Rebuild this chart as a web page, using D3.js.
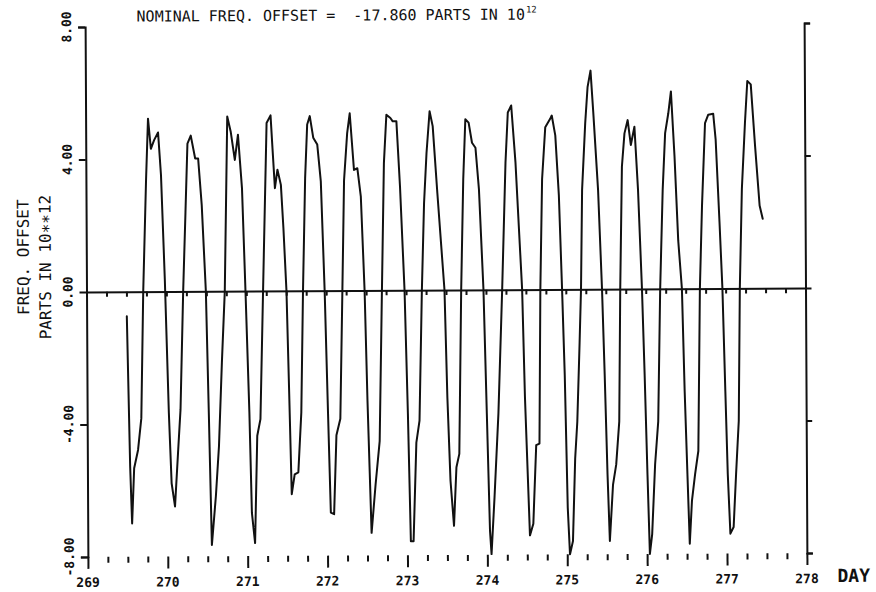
<!DOCTYPE html>
<html>
<head>
<meta charset="utf-8">
<script src="https://cdn.jsdelivr.net/npm/d3@7"></script>
<style>
  html, body { margin: 0; padding: 0; background: #fff; }
  svg { display: block; }
  text { font-family: "DejaVu Sans Mono", "Liberation Mono", monospace; fill: #111; }
</style>
</head>
<body>
<svg id="chart" width="876" height="592"></svg>
<script>
// Day of year (UTC) of each plotted sample
const days = [
  269.503, 269.535, 269.556, 269.585, 269.635, 269.678, 269.710, 269.753, 269.781, 269.815,
  269.856, 269.906, 269.940, 269.981, 270.023, 270.053, 270.094, 270.135, 270.169, 270.210,
  270.244, 270.273, 270.315, 270.369, 270.406, 270.448, 270.494, 270.523, 270.553, 270.606,
  270.648, 270.690, 270.731, 270.773, 270.815, 270.865, 270.906, 270.953, 270.990, 271.031,
  271.056, 271.094, 271.128, 271.169, 271.210, 271.265, 271.315, 271.335, 271.365, 271.398,
  271.440, 271.469, 271.503, 271.531, 271.556, 271.594, 271.640, 271.681, 271.710, 271.744,
  271.773, 271.806, 271.848, 271.898, 271.940, 271.981, 272.015, 272.044, 272.085, 272.119,
  272.169, 272.203, 272.231, 272.273, 272.306, 272.356, 272.398, 272.440, 272.481, 272.510,
  272.553, 272.606, 272.660, 272.698, 272.731, 272.765, 272.815, 272.844, 272.890, 272.931,
  272.981, 273.015, 273.044, 273.078, 273.119, 273.160, 273.198, 273.231, 273.265, 273.306,
  273.344, 273.398, 273.481, 273.510, 273.544, 273.585, 273.619, 273.656, 273.690, 273.723,
  273.753, 273.794, 273.835, 273.878, 273.919, 273.969, 274.003, 274.035, 274.053, 274.094,
  274.148, 274.203, 274.253, 274.285, 274.328, 274.378, 274.453, 274.481, 274.535, 274.578,
  274.619, 274.660, 274.681, 274.710, 274.753, 274.815, 274.835, 274.878, 274.919, 274.953,
  274.981, 275.010, 275.035, 275.073, 275.106, 275.135, 275.169, 275.190, 275.210, 275.253,
  275.285, 275.323, 275.356, 275.410, 275.453, 275.481, 275.510, 275.535, 275.578, 275.619,
  275.660, 275.681, 275.710, 275.744, 275.785, 275.823, 275.869, 275.910, 275.953, 275.981,
  276.010, 276.035, 276.065, 276.106, 276.148, 276.181, 276.219, 276.253, 276.294, 276.328,
  276.369, 276.410, 276.453, 276.481, 276.510, 276.535, 276.565, 276.606, 276.648, 276.678,
  276.710, 276.753, 276.794, 276.856, 276.885, 276.928, 276.960, 276.990, 277.015, 277.044,
  277.085, 277.119, 277.156, 277.178, 277.210, 277.253, 277.285, 277.328, 277.378, 277.431,
  277.469
];

// Frequency offset, parts in 10**12, relative to the nominal offset
const offsets = [
  -0.74, -5.28, -7.00, -5.33, -4.78, -3.82, 0.00, 3.40, 5.22, 4.31,
  4.57, 4.80, 3.51, 0.37, -3.67, -5.79, -6.49, -4.88, -3.57, 0.00,
  2.39, 4.46, 4.70, 4.01, 4.01, 2.60, 0.00, -3.67, -7.66, -6.19,
  -4.68, -2.15, 0.00, 5.27, 4.82, 3.96, 4.72, 3.10, 0.00, -3.67,
  -6.70, -7.61, -4.37, -3.87, 0.00, 5.07, 5.30, 4.41, 3.10, 3.66,
  3.20, 1.89, 0.00, -3.16, -6.14, -5.54, -5.48, -3.67, 0.00, 3.40,
  5.02, 5.27, 4.62, 4.41, 3.30, 0.00, -3.67, -6.70, -6.75, -4.37,
  -3.87, 0.00, 3.33, 4.75, 5.35, 3.64, 3.69, 2.83, 0.00, -3.33,
  -7.32, -5.86, -4.55, 0.00, 3.84, 5.30, 5.20, 5.10, 5.10, 3.13,
  0.00, -3.74, -7.58, -7.58, -4.60, -3.94, 0.00, 2.63, 4.14, 5.40,
  4.95, 2.93, 0.00, -3.23, -5.76, -7.12, -5.35, -4.95, 0.00, 3.33,
  5.15, 5.05, 4.44, 4.29, 3.03, 0.00, -3.74, -7.27, -7.98, -6.26,
  -3.74, 0.00, 3.84, 5.35, 5.56, 3.84, 0.00, -3.23, -7.42, -7.07,
  -4.70, -4.65, 0.00, 3.33, 4.90, 5.15, 5.25, 4.65, 2.83, 0.00,
  -2.60, -6.60, -8.00, -7.60, -5.10, -4.00, -1.60, 0.00, 3.00, 5.00,
  6.10, 6.60, 5.30, 3.00, 0.00, -2.60, -5.60, -7.60, -5.90, -5.30,
  -4.00, 0.00, 3.70, 4.70, 5.10, 4.35, 4.90, 3.00, 0.00, -2.60,
  -5.60, -8.00, -7.40, -5.30, -4.00, 0.00, 3.00, 4.70, 5.30, 5.96,
  4.00, 1.46, 0.00, -3.10, -5.60, -7.70, -6.40, -5.60, -4.90, 0.00,
  2.50, 5.00, 5.25, 5.28, 4.50, 2.00, 0.00, -3.10, -5.60, -7.40,
  -7.20, -5.60, -4.00, 0.00, 3.00, 5.00, 6.26, 6.16, 4.30, 2.50,
  2.10
];

const dayTicks = [269, 270, 271, 272, 273, 274, 275, 276, 277, 278];
const dayTickLabels = ["269", "270", "271", "272", "273", "274", "275", "276", "277", "278"];
const offsetTicks = [8, 4, 0, -4, -8];
const offsetTickLabels = ["8.00", "4.00", "0.00", "-4.00", "-8.00"];

const titleText = "NOMINAL FREQ. OFFSET =  -17.860 PARTS IN 10";
const titleExponent = "12";
const yTitleLines = ["FREQ. OFFSET", "PARTS IN 10\u2217\u221712"];
const xTitle = "DAY";

const ink = "#111";
const svg = d3.select("#chart");
svg.append("rect").attr("width", 876).attr("height", 592).attr("fill", "#fff");

// the plotter sheet sits with a slight counter-clockwise tilt
const sheet = svg.append("g").attr("transform", "rotate(-0.3 446 290)");

const x = d3.scaleLinear().domain([269, 278]).range([86.5, 805.5]);
const y = d3.scaleLinear().domain([-8, 8]).range([555, 25]);

const quarterDays = d3.range(269, 278.001, 0.25);

function inkAxis(sel, width) {
  sel.selectAll("path, line").attr("stroke", ink).attr("stroke-width", width);
  sel.select(".domain").attr("fill", "none");
  sel.selectAll("text").remove();
}

// left and right frame with outward ticks at every 4 units
sheet.append("g")
  .attr("transform", `translate(${x(269)},0)`)
  .call(d3.axisLeft(y).tickValues(offsetTicks).tickSize(7).tickSizeOuter(7))
  .call(inkAxis, 2);
sheet.append("g")
  .attr("transform", `translate(${x(278)},0)`)
  .call(d3.axisRight(y).tickValues(offsetTicks).tickSize(6).tickSizeOuter(6))
  .call(inkAxis, 2);

// zero line with quarter-day ticks beneath it
sheet.append("g")
  .attr("transform", `translate(0,${y(0)})`)
  .call(d3.axisBottom(x).tickValues(quarterDays).tickSize(5).tickSizeOuter(0))
  .call(inkAxis, 2);

// bottom time scale: short quarter-day ticks, long whole-day ticks, no base line
const bottom = sheet.append("g").attr("transform", `translate(0,${y(-8)})`);
bottom.call(d3.axisBottom(x)
    .tickValues(quarterDays.filter(d => d % 1 !== 0))
    .tickSize(6).tickSizeOuter(0))
  .call(inkAxis, 2);
bottom.select(".domain").remove();
const majors = sheet.append("g").attr("transform", `translate(0,${y(-8)})`);
majors.call(d3.axisBottom(x).tickValues(dayTicks).tickSize(12).tickSizeOuter(0))
  .call(inkAxis, 2);
majors.select(".domain").remove();

// day labels
sheet.append("g").selectAll("text")
  .data(dayTicks)
  .join("text")
  .attr("x", d => x(d))
  .attr("y", 585)
  .attr("text-anchor", "middle")
  .attr("font-size", 13)
  .attr("font-weight", "bold")
  .text((d, i) => dayTickLabels[i]);

sheet.append("text")
  .attr("x", 836)
  .attr("y", 584)
  .attr("font-size", 18)
  .attr("font-weight", "bold")
  .text(xTitle);

// offset labels, written along the axis
sheet.append("g").selectAll("text")
  .data(offsetTicks)
  .join("text")
  .attr("transform", d => `translate(72.5,${y(d)}) rotate(-90)`)
  .attr("text-anchor", "middle")
  .attr("font-size", 13)
  .attr("font-weight", "bold")
  .text((d, i) => offsetTickLabels[i]);

sheet.append("text")
  .attr("transform", "translate(29,255) rotate(-90)")
  .attr("text-anchor", "middle")
  .attr("font-size", 16)
  .text(yTitleLines[0]);
sheet.append("text")
  .attr("transform", "translate(51,265) rotate(-90)")
  .attr("text-anchor", "middle")
  .attr("font-size", 16)
  .text(yTitleLines[1]);

// heading, with the power of ten raised after the main text
const heading = sheet.append("text")
  .attr("x", 138)
  .attr("y", 20)
  .attr("font-size", 15)
  .style("white-space", "pre");
heading.append("tspan").text(titleText);
heading.append("tspan")
  .attr("dx", 1)
  .attr("dy", -7)
  .attr("font-size", 9)
  .text(titleExponent);

// the frequency record
const line = d3.line()
  .x((d, i) => x(days[i]))
  .y(d => y(d));
sheet.append("path")
  .datum(offsets)
  .attr("d", line)
  .attr("fill", "none")
  .attr("stroke", ink)
  .attr("stroke-width", 2)
  .attr("stroke-linejoin", "round")
  .attr("stroke-linecap", "round");
</script>
</body>
</html>
